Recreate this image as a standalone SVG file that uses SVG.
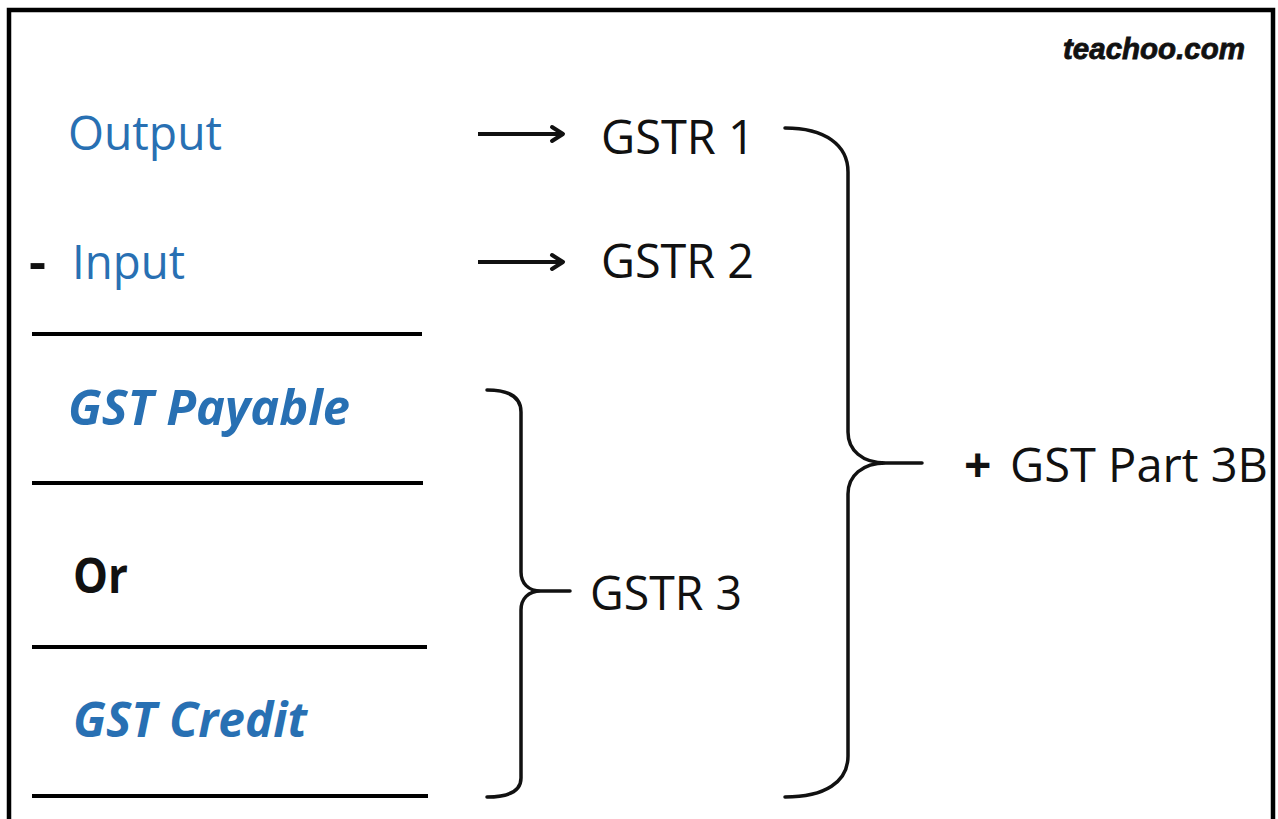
<svg xmlns="http://www.w3.org/2000/svg" width="1278" height="819" viewBox="0 0 1278 819">
  <style>
    .lbl { font-family: "Open Sans", "Noto Sans", "Liberation Sans", sans-serif; font-size: 48px; }
    .blue { fill: #2870b3; }
    .dark { fill: #111111; }
    .bi { font-weight: bold; font-style: italic; }
    .b { font-weight: bold; }
    .rule { stroke: #000; stroke-width: 4; stroke-linecap: butt; }
    .brace { fill: none; stroke: #111; stroke-width: 3.5; stroke-linecap: round; stroke-linejoin: round; }
    .arrow { stroke: #111; stroke-width: 4; marker-end: url(#chev); }
  </style>
  <defs>
    <marker id="chev" markerUnits="userSpaceOnUse" markerWidth="20" markerHeight="22" refX="15" refY="11" orient="auto">
      <path d="M4,4 L15,11 L4,18" fill="none" stroke="#111" stroke-width="4" stroke-linecap="round" stroke-linejoin="round"/>
    </marker>
  </defs>

  <rect x="0" y="0" width="1278" height="819" fill="#ffffff"/>
  <!-- outer frame (runs past the bottom edge) -->
  <rect x="9" y="10" width="1264" height="900" fill="none" stroke="#000" stroke-width="4.5"/>

  <!-- brand mark -->
  <text x="1063" y="59" font-family="Liberation Sans, Arial, sans-serif" font-size="29" font-weight="bold" font-style="italic" fill="#111" stroke="#111" stroke-width="0.8" textLength="182" lengthAdjust="spacingAndGlyphs">teachoo.com</text>

  <!-- left column -->
  <g id="output">
    <text class="lbl blue" x="68" y="150" textLength="154" lengthAdjust="spacingAndGlyphs">Output</text>
  </g>
  <g id="input">
    <text class="lbl" y="279"><tspan class="dark b" x="29" textLength="17" lengthAdjust="spacingAndGlyphs">-</tspan><tspan class="blue" x="72" textLength="113" lengthAdjust="spacingAndGlyphs">Input</tspan></text>
  </g>
  <line class="rule" x1="32" y1="334" x2="422" y2="334"/>
  <g id="gst-payable">
    <text class="lbl blue bi" x="68" y="425" textLength="282" lengthAdjust="spacingAndGlyphs">GST Payable</text>
  </g>
  <line class="rule" x1="32" y1="483" x2="423" y2="483"/>
  <g id="or">
    <text class="lbl dark b" x="73" y="593" textLength="55" lengthAdjust="spacingAndGlyphs">Or</text>
  </g>
  <line class="rule" x1="32" y1="647" x2="427" y2="647"/>
  <g id="gst-credit">
    <text class="lbl blue bi" x="73" y="737" textLength="234" lengthAdjust="spacingAndGlyphs">GST Credit</text>
  </g>
  <line class="rule" x1="32" y1="796" x2="428" y2="796"/>

  <!-- returns -->
  <g id="gstr1">
    <text class="lbl dark" x="601" y="154" textLength="154" lengthAdjust="spacingAndGlyphs">GSTR 1</text>
  </g>
  <g id="gstr2">
    <text class="lbl dark" x="601" y="278" textLength="153" lengthAdjust="spacingAndGlyphs">GSTR 2</text>
  </g>
  <g id="gstr3">
    <text class="lbl dark" x="590" y="610" textLength="152" lengthAdjust="spacingAndGlyphs">GSTR 3</text>
  </g>
  <g id="gst-part-3b">
    <text class="lbl" y="482"><tspan class="dark b" x="964">+</tspan><tspan class="dark" x="1010" textLength="258" lengthAdjust="spacingAndGlyphs">GST Part 3B</tspan></text>
  </g>

  <!-- connectors -->
  <g id="connectors">
    <line class="arrow" x1="478" y1="134" x2="563" y2="134"/>
    <line class="arrow" x1="478" y1="262" x2="563" y2="262"/>
    <path class="brace" d="M487,390 C510,390 521,398 521,412 L521,572 C521,583 528,591 541,591 L570,591 M541,591 C528,591 521,599 521,610 L521,778 C521,790 510,797 487,797"/>
    <path class="brace" d="M785,128 C825,128 848,145 848,172 L848,432 C848,450 862,463 886,463 L922,463 M886,463 C862,463 848,476 848,494 L848,756 C848,782 825,797 785,797"/>
  </g>
</svg>
